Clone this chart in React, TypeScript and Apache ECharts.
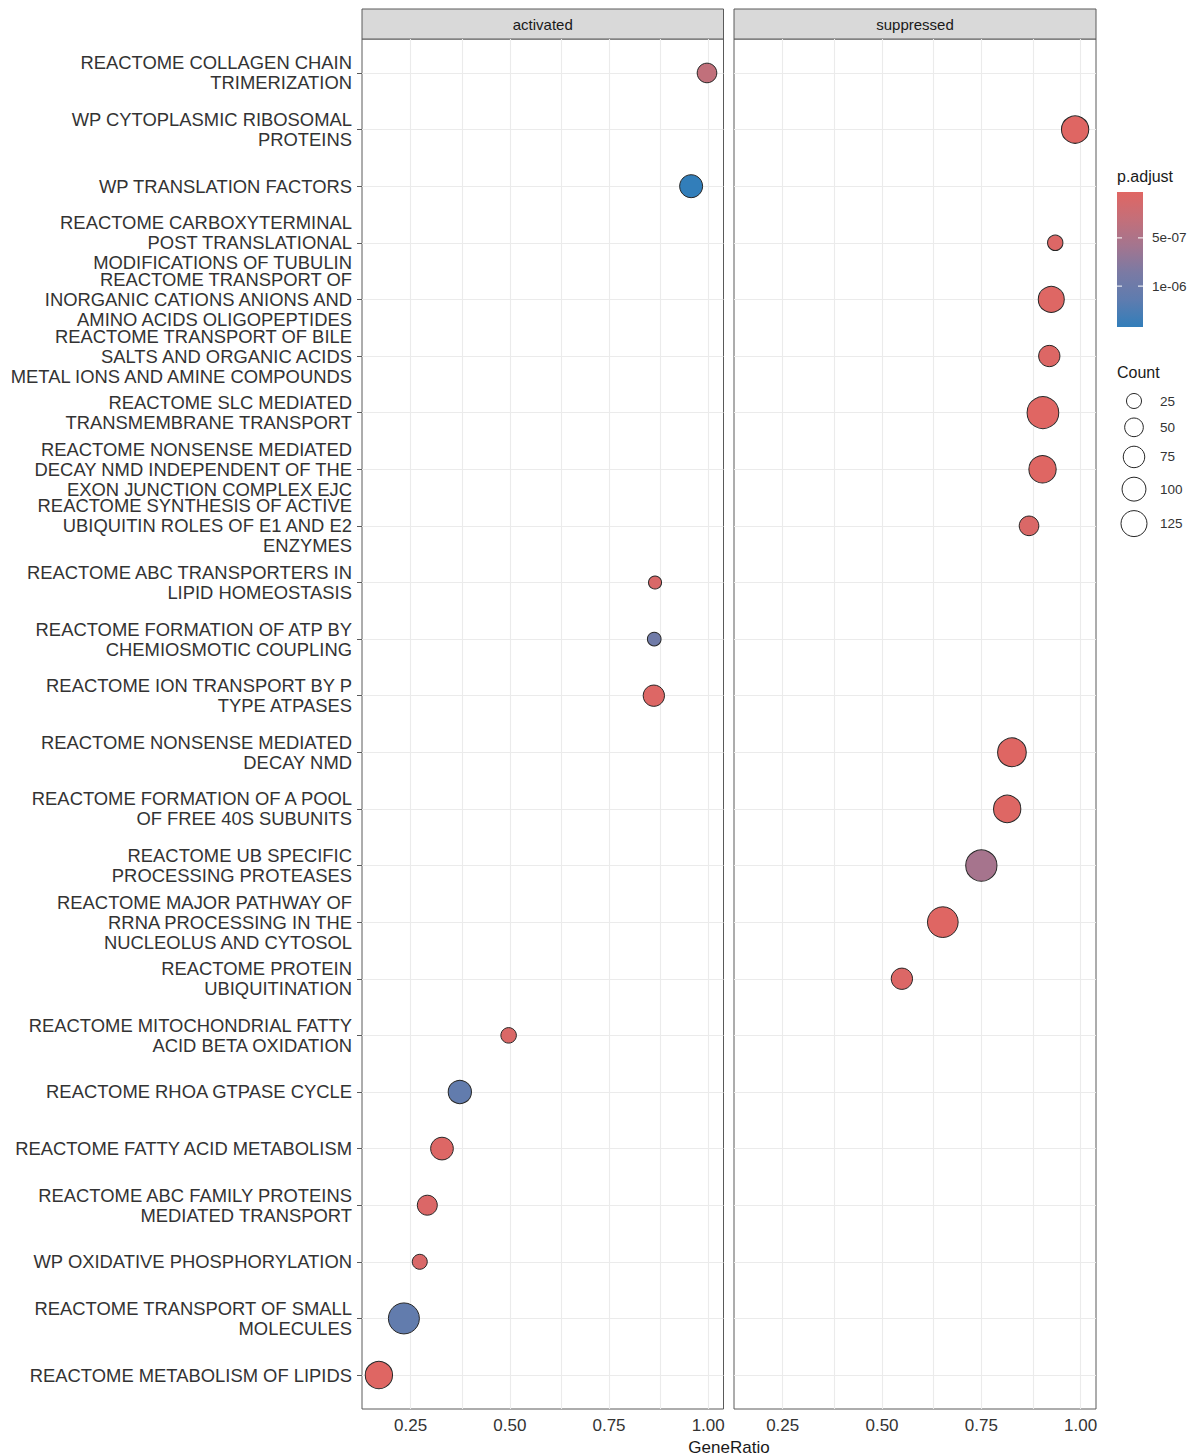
import { useEffect, useRef } from "react";
import * as echarts from "echarts";

// Enriched pathways, listed from the top row of the plot to the bottom row
const pathways = [
  "REACTOME COLLAGEN CHAIN\nTRIMERIZATION",
  "WP CYTOPLASMIC RIBOSOMAL\nPROTEINS",
  "WP TRANSLATION FACTORS",
  "REACTOME CARBOXYTERMINAL\nPOST TRANSLATIONAL\nMODIFICATIONS OF TUBULIN",
  "REACTOME TRANSPORT OF\nINORGANIC CATIONS ANIONS AND\nAMINO ACIDS OLIGOPEPTIDES",
  "REACTOME TRANSPORT OF BILE\nSALTS AND ORGANIC ACIDS\nMETAL IONS AND AMINE COMPOUNDS",
  "REACTOME SLC MEDIATED\nTRANSMEMBRANE TRANSPORT",
  "REACTOME NONSENSE MEDIATED\nDECAY NMD INDEPENDENT OF THE\nEXON JUNCTION COMPLEX EJC",
  "REACTOME SYNTHESIS OF ACTIVE\nUBIQUITIN ROLES OF E1 AND E2\nENZYMES",
  "REACTOME ABC TRANSPORTERS IN\nLIPID HOMEOSTASIS",
  "REACTOME FORMATION OF ATP BY\nCHEMIOSMOTIC COUPLING",
  "REACTOME ION TRANSPORT BY P\nTYPE ATPASES",
  "REACTOME NONSENSE MEDIATED\nDECAY NMD",
  "REACTOME FORMATION OF A POOL\nOF FREE 40S SUBUNITS",
  "REACTOME UB SPECIFIC\nPROCESSING PROTEASES",
  "REACTOME MAJOR PATHWAY OF\nRRNA PROCESSING IN THE\nNUCLEOLUS AND CYTOSOL",
  "REACTOME PROTEIN\nUBIQUITINATION",
  "REACTOME MITOCHONDRIAL FATTY\nACID BETA OXIDATION",
  "REACTOME RHOA GTPASE CYCLE",
  "REACTOME FATTY ACID METABOLISM",
  "REACTOME ABC FAMILY PROTEINS\nMEDIATED TRANSPORT",
  "WP OXIDATIVE PHOSPHORYLATION",
  "REACTOME TRANSPORT OF SMALL\nMOLECULES",
  "REACTOME METABOLISM OF LIPIDS",
];

const direction = [
  "activated", "suppressed", "activated", "suppressed", "suppressed", "suppressed",
  "suppressed", "suppressed", "suppressed", "activated", "activated", "activated",
  "suppressed", "suppressed", "suppressed", "suppressed", "suppressed", "activated",
  "activated", "activated", "activated", "activated", "activated", "activated",
];

const geneRatio = [
  0.997, 0.986, 0.957, 0.936, 0.926, 0.921,
  0.905, 0.904, 0.870, 0.866, 0.864, 0.863,
  0.827, 0.815, 0.750, 0.653, 0.550, 0.497,
  0.374, 0.329, 0.292, 0.273, 0.233, 0.170,
];

const geneCount = [
  58, 142, 90, 27, 125, 73,
  207, 142, 58, 15, 18, 73,
  161, 142, 200, 191, 73, 28,
  93, 87, 61, 25, 196, 142,
];

const pAdjust = [
  3.3e-7, 3e-8, 1.424e-6, 6e-8, 4e-8, 5e-8,
  2.4e-8, 3e-8, 8e-8, 9e-8, 9.6e-7, 5e-8,
  3e-8, 4e-8, 5.6e-7, 3e-8, 6e-8, 8e-8,
  1.1e-6, 5e-8, 7e-8, 9e-8, 1.1e-6, 3e-8,
];

const facets = ["activated", "suppressed"];
const ratioTicks = [0.25, 0.5, 0.75, 1.0];
const ratioGridLines = [0.25, 0.375, 0.5, 0.625, 0.75, 0.875, 1.0];
const countBreaks = [25, 50, 75, 100, 125];
const pBreaks = [5e-7, 1e-6];
const pBreakLabels = ["5e-07", "1e-06"];

const P_MIN = 2.4e-8;
const P_MAX = 1.424e-6;
const RATIO_MIN = 0.1274;
const RATIO_MAX = 1.0386;

// low p.adjust (red) -> high p.adjust (blue), blended through Lab-like midtones
const colorStops = ["#e06663", "#c46f79", "#a3758f", "#7a7aa4", "#5e7caf", "#327eba"];

const FONT = "'Liberation Sans', Arial, Helvetica, sans-serif";
const TEXT_DARK = "#333333";
const BORDER = "#5a5a5a";
const GRID_LINE = "#ebebeb";

const PANEL_TOP = 39;
const PANEL_H = 1370;
const PANEL_LEFT = [362, 734];
const PANEL_W = [361.5, 362];

const dotDiameter = (n: number) => 7.1 + 1.78 * Math.sqrt(n);

export default function App() {
  const ref = useRef<HTMLDivElement>(null);

  useEffect(() => {
    if (!ref.current) return;
    const chart = echarts.init(ref.current, null, { renderer: "svg" });

    const rowIndex = pathways.map((_, i) => i);

    const grids = facets.map((_, f) => ({
      left: PANEL_LEFT[f],
      top: PANEL_TOP,
      width: PANEL_W[f],
      height: PANEL_H,
      show: true,
      borderColor: BORDER,
      borderWidth: 1,
      backgroundColor: "transparent",
      containLabel: false,
    }));

    const xAxes = facets.map((_, f) => ({
      type: "value",
      gridIndex: f,
      min: RATIO_MIN,
      max: RATIO_MAX,
      position: "bottom",
      axisLine: { show: false },
      axisTick: {
        show: true,
        customValues: ratioTicks,
        length: 5,
        lineStyle: { color: BORDER, width: 1 },
      },
      axisLabel: {
        show: true,
        customValues: ratioTicks,
        formatter: (v: number) => v.toFixed(2),
        fontSize: 17,
        fontFamily: FONT,
        color: TEXT_DARK,
        margin: 8,
      },
      splitLine: { show: false },
    }));

    const yAxes = facets.map((_, f) => ({
      type: "value",
      gridIndex: f,
      min: -0.6,
      max: pathways.length - 1 + 0.6,
      inverse: true,
      axisLine: { show: false },
      axisTick: {
        show: f === 0,
        customValues: rowIndex,
        length: 5,
        lineStyle: { color: BORDER, width: 1 },
      },
      axisLabel: {
        show: f === 0,
        customValues: rowIndex,
        formatter: (v: number) => pathways[Math.round(v)] ?? "",
        fontSize: 18.4,
        lineHeight: 20,
        fontFamily: FONT,
        color: TEXT_DARK,
        margin: 10,
        align: "right",
      },
      splitLine: { show: false },
    }));

    // background grid lines of each panel, kept beneath the dots
    const gridSeries = facets.map((_, f) => ({
      type: "line",
      xAxisIndex: f,
      yAxisIndex: f,
      data: [],
      z: 1,
      silent: true,
      markLine: {
        z: 1,
        silent: true,
        symbol: ["none", "none"],
        label: { show: false },
        emphasis: { disabled: true },
        animation: false,
        lineStyle: { color: GRID_LINE, width: 1.1, type: "solid" },
        data: [
          ...ratioGridLines.map((v) => ({ xAxis: v })),
          ...rowIndex.map((i) => ({ yAxis: i })),
        ],
      },
    }));

    const dotSeries = facets.map((name, f) => ({
      type: "scatter",
      name,
      xAxisIndex: f,
      yAxisIndex: f,
      z: 10,
      symbol: "circle",
      symbolSize: (val: number[]) => dotDiameter(val[2]) - 1,
      itemStyle: { borderColor: "#262626", borderWidth: 1, opacity: 1 },
      data: rowIndex
        .filter((i) => direction[i] === name)
        .map((i) => [geneRatio[i], i, geneCount[i], pAdjust[i]]),
    }));

    // legend geometry
    const LEG_X = 1117;
    const CB_TOP = 192;
    const CB_H = 135;
    const CB_W = 26;
    const pToY = (p: number) => CB_TOP + ((p - P_MIN) / (P_MAX - P_MIN)) * CB_H;

    const graphics: any[] = [];

    facets.forEach((name, f) => {
      graphics.push({
        type: "rect",
        shape: { x: PANEL_LEFT[f], y: 9, width: PANEL_W[f], height: PANEL_TOP - 9 },
        style: { fill: "#d9d9d9", stroke: BORDER, lineWidth: 1 },
        silent: true,
      });
      graphics.push({
        type: "text",
        x: PANEL_LEFT[f] + PANEL_W[f] / 2,
        y: (9 + PANEL_TOP) / 2,
        style: {
          text: name,
          fontSize: 15,
          fontFamily: FONT,
          fill: "#1a1a1a",
          align: "center",
          verticalAlign: "middle",
          textAlign: "center",
          textVerticalAlign: "middle",
        },
        silent: true,
      });
    });

    graphics.push({
      type: "text",
      x: (PANEL_LEFT[0] + PANEL_LEFT[1] + PANEL_W[1]) / 2,
      y: 1447,
      style: {
        text: "GeneRatio",
        fontSize: 17,
        fontFamily: FONT,
        fill: "#1a1a1a",
        align: "center",
        verticalAlign: "middle",
        textAlign: "center",
        textVerticalAlign: "middle",
      },
      silent: true,
    });

    // colour bar legend
    graphics.push({
      type: "text",
      x: LEG_X,
      y: 176,
      style: {
        text: "p.adjust",
        fontSize: 16,
        fontFamily: FONT,
        fill: "#1a1a1a",
        align: "left",
        verticalAlign: "middle",
        textAlign: "left",
        textVerticalAlign: "middle",
      },
      silent: true,
    });
    graphics.push({
      type: "rect",
      shape: { x: LEG_X, y: CB_TOP, width: CB_W, height: CB_H },
      style: {
        fill: {
          type: "linear",
          x: 0,
          y: 0,
          x2: 0,
          y2: 1,
          colorStops: colorStops.map((c, i) => ({ offset: i / (colorStops.length - 1), color: c })),
        },
      },
      silent: true,
    });
    pBreaks.forEach((p, k) => {
      const y = pToY(p);
      graphics.push({
        type: "line",
        shape: { x1: LEG_X, y1: y, x2: LEG_X + 5, y2: y },
        style: { stroke: "#ffffff", lineWidth: 1 },
        silent: true,
      });
      graphics.push({
        type: "line",
        shape: { x1: LEG_X + CB_W - 5, y1: y, x2: LEG_X + CB_W, y2: y },
        style: { stroke: "#ffffff", lineWidth: 1 },
        silent: true,
      });
      graphics.push({
        type: "text",
        x: LEG_X + CB_W + 9,
        y,
        style: {
          text: pBreakLabels[k],
          fontSize: 13.5,
          fontFamily: FONT,
          fill: TEXT_DARK,
          align: "left",
          verticalAlign: "middle",
          textAlign: "left",
          textVerticalAlign: "middle",
        },
        silent: true,
      });
    });

    // size legend
    graphics.push({
      type: "text",
      x: LEG_X,
      y: 372,
      style: {
        text: "Count",
        fontSize: 16,
        fontFamily: FONT,
        fill: "#1a1a1a",
        align: "left",
        verticalAlign: "middle",
        textAlign: "left",
        textVerticalAlign: "middle",
      },
      silent: true,
    });
    let keyY = 401;
    countBreaks.forEach((n, k) => {
      const d = dotDiameter(n);
      if (k > 0) keyY += (dotDiameter(countBreaks[k - 1]) + d) / 2 + 8.5;
      graphics.push({
        type: "circle",
        shape: { cx: LEG_X + 17, cy: keyY, r: (d - 1) / 2 },
        style: { fill: "none", stroke: "#262626", lineWidth: 1 },
        silent: true,
      });
      graphics.push({
        type: "text",
        x: LEG_X + 43,
        y: keyY,
        style: {
          text: String(n),
          fontSize: 13.5,
          fontFamily: FONT,
          fill: TEXT_DARK,
          align: "left",
          verticalAlign: "middle",
          textAlign: "left",
          textVerticalAlign: "middle",
        },
        silent: true,
      });
    });

    chart.setOption({
      animation: false,
      backgroundColor: "#ffffff",
      textStyle: { fontFamily: FONT },
      grid: grids,
      xAxis: xAxes,
      yAxis: yAxes,
      visualMap: {
        type: "continuous",
        show: false,
        dimension: 3,
        min: P_MIN,
        max: P_MAX,
        seriesIndex: [2, 3],
        inRange: { color: colorStops },
      },
      series: [...gridSeries, ...dotSeries],
      graphic: { elements: graphics },
    });

    return () => chart.dispose();
  }, []);

  return (
    <div
      ref={ref}
      style={{ position: "absolute", left: 0, top: 0, width: 1195, height: 1456 }}
    />
  );
}
